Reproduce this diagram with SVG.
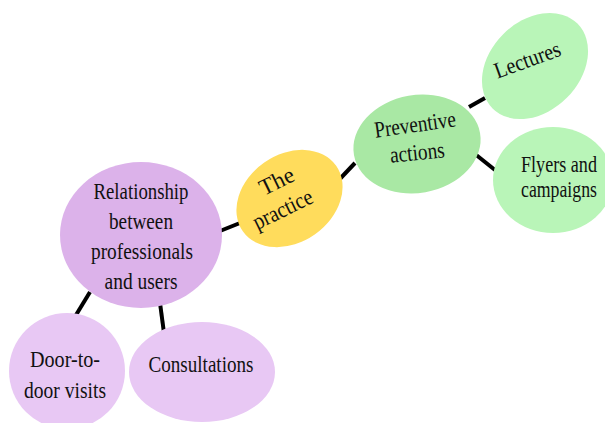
<svg xmlns="http://www.w3.org/2000/svg" width="605" height="423" viewBox="0 0 605 423">
<style>
text{font-family:"Liberation Serif","DejaVu Serif",serif;font-size:23px;fill:#111;text-anchor:middle}
.c{stroke:#000;stroke-width:4;stroke-linecap:butt}
.purple{fill:#dcb2ea}
.lpurple{fill:#e8c8f4}
.yellow{fill:#ffdc5c}
.green{fill:#a9e8a4}
.lgreen{fill:#b9f5b8}
</style>
<rect width="605" height="423" fill="#fff"/>
<g id="connectors">
<line class="c" x1="220" y1="231" x2="240" y2="223"/>
<line class="c" x1="336" y1="183" x2="355" y2="163"/>
<line class="c" x1="469" y1="107" x2="485" y2="98"/>
<line class="c" x1="475" y1="154" x2="495" y2="170"/>
<line class="c" x1="90" y1="292" x2="76" y2="315"/>
<line class="c" x1="160" y1="303" x2="164" y2="333"/>
</g>
<g id="relationship">
<ellipse class="purple" cx="141" cy="235" rx="81" ry="73"/>
<text x="141" y="199" textLength="95" lengthAdjust="spacingAndGlyphs">Relationship</text>
<text x="141" y="229" textLength="64" lengthAdjust="spacingAndGlyphs">between</text>
<text x="142" y="259" textLength="102" lengthAdjust="spacingAndGlyphs">professionals</text>
<text x="141" y="289" textLength="73" lengthAdjust="spacingAndGlyphs">and users</text>
</g>
<g id="door">
<ellipse class="lpurple" cx="67" cy="371" rx="58" ry="58"/>
<text x="65" y="367" textLength="70" lengthAdjust="spacingAndGlyphs">Door-to-</text>
<text x="65" y="398" textLength="82" lengthAdjust="spacingAndGlyphs">door visits</text>
</g>
<g id="consultations">
<ellipse class="lpurple" cx="202" cy="372" rx="73" ry="50"/>
<text x="201" y="372" textLength="105" lengthAdjust="spacingAndGlyphs">Consultations</text>
</g>
<g id="practice">
<ellipse class="yellow" cx="289.5" cy="198.5" rx="57" ry="44" transform="rotate(-35 289.5 198.5)"/>
<text x="280" y="188" textLength="36" lengthAdjust="spacingAndGlyphs" transform="rotate(-26 280 188)">The</text>
<text x="286" y="216" textLength="64" lengthAdjust="spacingAndGlyphs" transform="rotate(-26 286 216)">practice</text>
</g>
<g id="preventive">
<ellipse class="green" cx="417" cy="144" rx="64" ry="49" transform="rotate(-10 417 144)"/>
<text x="416" y="132" textLength="82" lengthAdjust="spacingAndGlyphs" transform="rotate(-8 416 132)">Preventive</text>
<text x="418" y="160" textLength="55" lengthAdjust="spacingAndGlyphs" transform="rotate(-6 418 160)">actions</text>
</g>
<g id="lectures">
<ellipse class="lgreen" cx="535" cy="66" rx="60" ry="45" transform="rotate(-45 535 66)"/>
<text x="530" y="67" textLength="69" lengthAdjust="spacingAndGlyphs" transform="rotate(-20 530 67)">Lectures</text>
</g>
<g id="flyers">
<ellipse class="lgreen" cx="553" cy="180" rx="60" ry="53"/>
<text x="559" y="172" textLength="76" lengthAdjust="spacingAndGlyphs">Flyers and</text>
<text x="559" y="197" textLength="76" lengthAdjust="spacingAndGlyphs">campaigns</text>
</g>
</svg>
